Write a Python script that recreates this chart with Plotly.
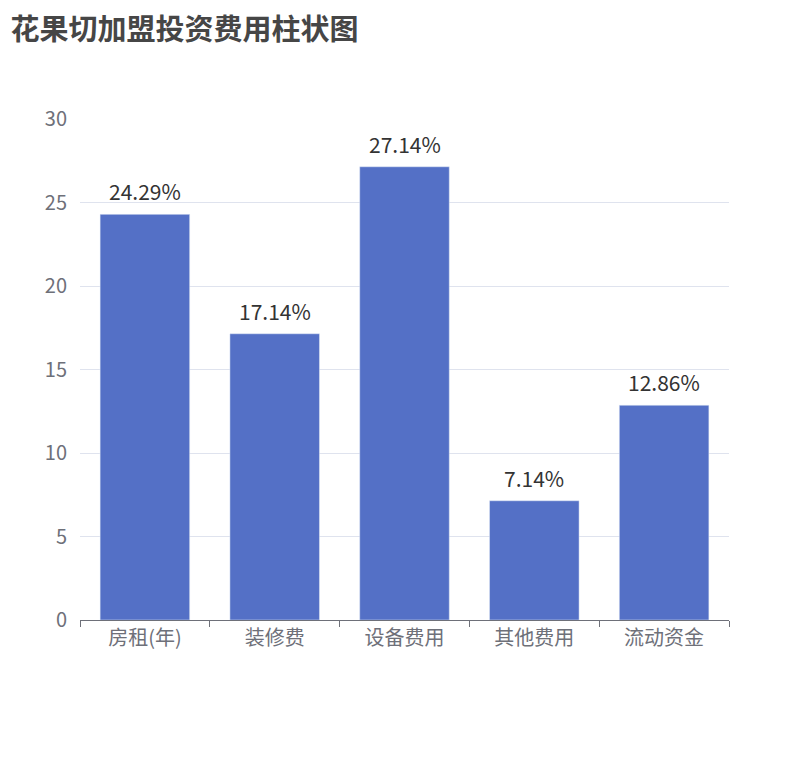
import plotly.graph_objects as go

categories = ['房租(年)', '装修费', '设备费用', '其他费用', '流动资金']
values = [24.29, 17.14, 27.14, 7.14, 12.86]
labels = ['24.29%', '17.14%', '27.14%', '7.14%', '12.86%']

font = 'Noto Sans CJK SC'

fig = go.Figure(go.Bar(
    x=categories, y=values, marker_color='#5470c6', hoverinfo='x+y',
))

# value labels a little above each bar
for c, v, t in zip(categories, values, labels):
    fig.add_annotation(x=c, y=v, text=t, showarrow=False, yanchor='bottom', yshift=6,
                       font=dict(size=21, color='#333333', family=font))

fig.update_layout(
    width=810, height=760, paper_bgcolor='white', plot_bgcolor='white',
    margin=dict(l=72, r=89, t=111, b=148),
    bargap=0.31, showlegend=False,
    title=dict(text='<b>花果切加盟投资费用柱状图</b>', x=0.003, xanchor='left',
               y=0.985, yanchor='top',
               font=dict(size=29, color='#464646', family=font)),
)
fig.update_xaxes(
    tickson='boundaries', ticks='outside', ticklen=6, tickcolor='#6e7079',
    showline=True, linecolor='#6e7079', linewidth=1,
    tickfont=dict(size=20, color='#6e7079', family=font),
)
fig.update_yaxes(
    range=[0, 30], dtick=5, gridcolor='#dfe3ee', zeroline=False,
    tickfont=dict(size=20, color='#6e7079', family=font), ticklabelstandoff=12,
)

fig.write_html('out.html')
